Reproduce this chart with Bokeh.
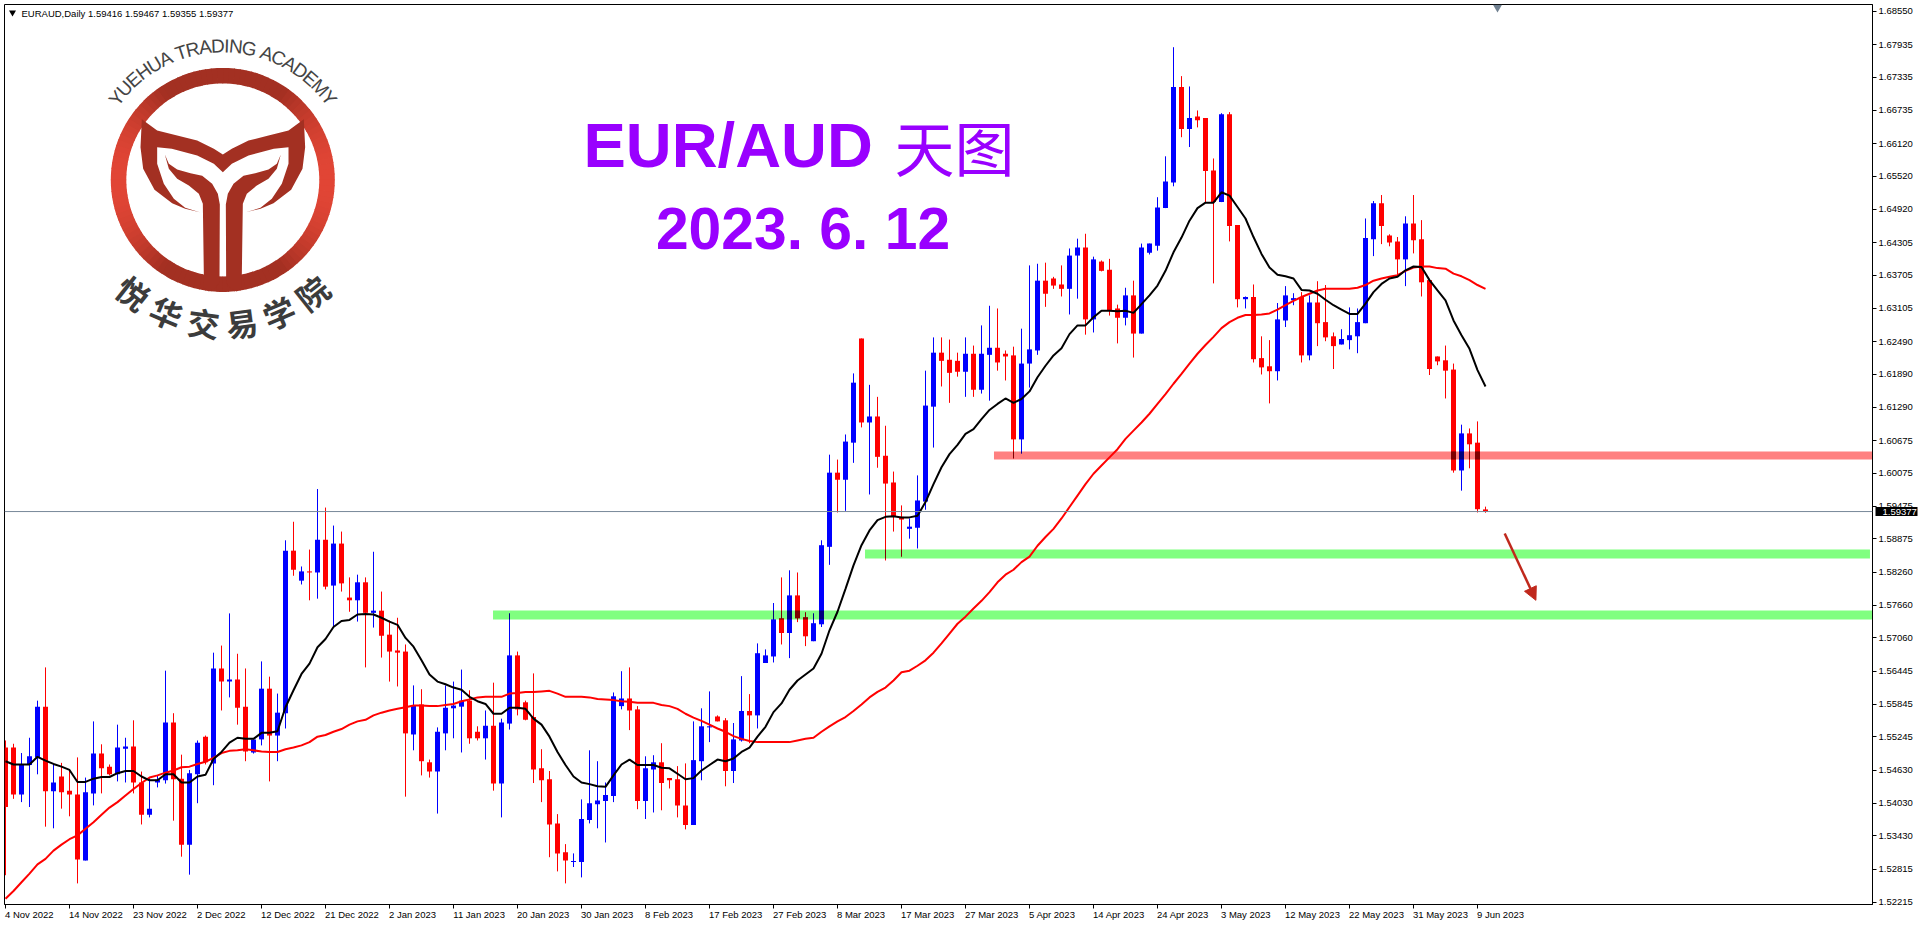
import math
from bokeh.embed import file_html
from bokeh.resources import INLINE
from bokeh.plotting import figure
from bokeh.models import Range1d, FixedTicker, PrintfTickFormatter, Span, Arrow, NormalHead, LinearAxis
from bokeh.core.properties import value

opens = [1.5505,1.5505,1.5419,1.5473,1.5487,1.5580,1.5425,1.5452,1.5426,1.5419,
1.5298,1.5421,1.5494,1.5470,1.5456,1.5503,1.5507,1.5441,1.5382,1.5441,
1.5445,1.5551,1.5448,1.5327,1.5456,1.5525,1.5476,1.5650,1.5626,1.5630,
1.5580,1.5496,1.5520,1.5613,1.5527,1.5568,1.5866,1.5811,1.5828,1.5826,
1.5886,1.5802,1.5879,1.5780,1.5775,1.5808,1.5752,1.5756,1.5712,1.5683,
1.5681,1.5529,1.5584,1.5478,1.5461,1.5531,1.5577,1.5580,1.5591,1.5534,
1.5522,1.5545,1.5439,1.5549,1.5674,1.5588,1.5561,1.5467,1.5447,1.5366,
1.5313,1.5295,1.5295,1.5372,1.5401,1.5407,1.5416,1.5581,1.5595,1.5575,
1.5407,1.5465,1.5478,1.5449,1.5447,1.5399,1.5363,1.5480,1.5542,1.5562,
1.5555,1.5462,1.5518,1.5572,1.5564,1.5660,1.5672,1.5742,1.5715,1.5784,
1.5744,1.5700,1.5731,1.5873,1.6009,1.5996,1.6064,1.6255,1.6101,1.6112,
1.6040,1.5991,1.5928,1.5906,1.5908,1.5956,1.6130,1.6229,1.6216,1.6214,
1.6194,1.6227,1.6161,1.6225,1.6238,1.6227,1.6224,1.6070,1.6209,1.6233,
1.6361,1.6365,1.6354,1.6346,1.6407,1.6422,1.6290,1.6396,1.6381,1.6310,
1.6293,1.6334,1.6264,1.6412,1.6425,1.6494,1.6541,1.6716,1.6639,1.6662,
1.6659,1.6563,1.6505,1.6666,1.6463,1.6327,1.6331,1.6219,1.6204,1.6195,
1.6288,1.6325,1.6331,1.6224,1.6321,1.6285,1.6259,1.6244,1.6252,1.6259,
1.6283,1.6437,1.6503,1.6444,1.6433,1.6400,1.6466,1.6437,1.6362,1.6222,
1.6215,1.6198,1.6013,1.6081,1.6064,1.59416]
highs = [1.5518,1.5512,1.5495,1.5523,1.5591,1.5652,1.5475,1.5477,1.5463,1.5487,
1.5450,1.5553,1.5511,1.5474,1.5547,1.5523,1.5555,1.5461,1.5450,1.5454,
1.5646,1.5568,1.5492,1.5464,1.5518,1.5527,1.5679,1.5692,1.5751,1.5677,
1.5650,1.5520,1.5663,1.5635,1.5604,1.5885,1.5919,1.5837,1.5868,1.5979,
1.5945,1.5912,1.5901,1.5817,1.5822,1.5817,1.5864,1.5791,1.5738,1.5743,
1.5694,1.5619,1.5612,1.5483,1.5542,1.5619,1.5626,1.5648,1.5610,1.5544,
1.5573,1.5624,1.5558,1.5751,1.5681,1.5591,1.5641,1.5502,1.5462,1.5383,
1.5328,1.5311,1.5410,1.5500,1.5480,1.5441,1.5606,1.5645,1.5652,1.5581,
1.5489,1.5491,1.5513,1.5449,1.5471,1.5476,1.5553,1.5577,1.5608,1.5564,
1.5559,1.5550,1.5636,1.5603,1.5696,1.5685,1.5770,1.5817,1.5830,1.5826,
1.5753,1.5751,1.5885,1.6042,1.6033,1.6079,1.6191,1.6255,1.6170,1.6148,
1.6095,1.6011,1.5949,1.5925,1.6004,1.6196,1.6257,1.6257,1.6253,1.6229,
1.6257,1.6242,1.6279,1.6315,1.6310,1.6233,1.6240,1.6273,1.6389,1.6392,
1.6394,1.6368,1.6389,1.6420,1.6438,1.6447,1.6405,1.6398,1.6401,1.6317,
1.6348,1.6361,1.6429,1.6429,1.6514,1.6589,1.6789,1.6736,1.6717,1.6673,
1.6659,1.6585,1.6668,1.6670,1.6463,1.6332,1.6354,1.6259,1.6252,1.6320,
1.6351,1.6338,1.6340,1.6334,1.6360,1.6353,1.6266,1.6272,1.6312,1.6310,
1.6475,1.6507,1.6518,1.6446,1.6441,1.6479,1.6518,1.6472,1.6362,1.6222,
1.6242,1.6209,1.6097,1.6090,1.6103,1.59467]
lows = [1.5271,1.5411,1.5405,1.5396,1.5456,1.5360,1.5357,1.5393,1.5379,1.5256,
1.5298,1.5399,1.5421,1.5454,1.5443,1.5441,1.5421,1.5364,1.5377,1.5432,
1.5439,1.5371,1.5305,1.5272,1.5403,1.5474,1.5436,1.5573,1.5597,1.5547,
1.5480,1.5494,1.5509,1.5443,1.5480,1.5540,1.5820,1.5804,1.5775,1.5778,
1.5795,1.5725,1.5791,1.5754,1.5736,1.5652,1.5725,1.5670,1.5626,1.5617,
1.5415,1.5500,1.5454,1.5450,1.5384,1.5500,1.5522,1.5496,1.5512,1.5518,
1.5483,1.5426,1.5377,1.5538,1.5564,1.5555,1.5440,1.5405,1.5304,1.5278,
1.5256,1.5286,1.5267,1.5366,1.5357,1.5331,1.5405,1.5575,1.5537,1.5392,
1.5374,1.5386,1.5390,1.5430,1.5377,1.5355,1.5363,1.5445,1.5515,1.5553,
1.5434,1.5440,1.5516,1.5513,1.5540,1.5660,1.5661,1.5694,1.5669,1.5735,
1.5691,1.5700,1.5726,1.5840,1.5936,1.5939,1.6027,1.6092,1.5969,1.6018,
1.5848,1.5901,1.5855,1.5888,1.5870,1.5941,1.6055,1.6167,1.6137,1.6185,
1.6148,1.6148,1.6154,1.6141,1.6196,1.6178,1.6035,1.6044,1.6165,1.6225,
1.6313,1.6346,1.6332,1.6299,1.6328,1.6262,1.6266,1.6378,1.6297,1.6246,
1.6279,1.6220,1.6264,1.6409,1.6416,1.6494,1.6534,1.6624,1.6606,1.6642,
1.6505,1.6356,1.6505,1.6433,1.6312,1.6310,1.6211,1.6189,1.6136,1.6178,
1.6276,1.6316,1.6211,1.6215,1.6241,1.6250,1.6199,1.6244,1.6235,1.6228,
1.6283,1.6406,1.6428,1.6424,1.6371,1.6351,1.6411,1.6332,1.6188,1.6206,
1.6145,1.6009,1.5976,1.6017,1.5936,1.59355]
closes = [1.5396,1.5419,1.5473,1.5489,1.5580,1.5425,1.5441,1.5423,1.5419,1.5300,
1.5423,1.5494,1.5467,1.5456,1.5505,1.5507,1.5441,1.5382,1.5393,1.5446,
1.5551,1.5447,1.5327,1.5458,1.5514,1.5478,1.5650,1.5626,1.5630,1.5578,
1.5498,1.5520,1.5613,1.5527,1.5569,1.5866,1.5831,1.5828,1.5826,1.5886,
1.5800,1.5879,1.5806,1.5775,1.5808,1.5752,1.5756,1.5710,1.5681,1.5679,
1.5531,1.5582,1.5480,1.5461,1.5534,1.5578,1.5582,1.5591,1.5522,1.5522,
1.5545,1.5439,1.5551,1.5674,1.5575,1.5556,1.5465,1.5445,1.5364,1.5311,
1.5298,1.5297,1.5374,1.5403,1.5408,1.5418,1.5599,1.5595,1.5573,1.5407,
1.5467,1.5478,1.5440,1.5445,1.5399,1.5363,1.5482,1.5544,1.5544,1.5553,
1.5462,1.5520,1.5572,1.5564,1.5678,1.5674,1.5740,1.5715,1.5784,1.5742,
1.5709,1.5733,1.5876,1.6009,1.5996,1.6066,1.6174,1.6101,1.6112,1.6038,
1.5989,1.5928,1.5923,1.5910,1.5958,1.6132,1.6229,1.6214,1.6192,1.6194,
1.6227,1.6161,1.6227,1.6238,1.6211,1.6222,1.6070,1.6209,1.6235,1.6361,
1.6337,1.6352,1.6346,1.6407,1.6422,1.6290,1.6400,1.6379,1.6306,1.6293,
1.6334,1.6264,1.6422,1.6429,1.6495,1.6543,1.6716,1.6639,1.6659,1.6655,
1.6562,1.6505,1.6666,1.6461,1.6327,1.6331,1.6217,1.6202,1.6195,1.6290,
1.6334,1.6329,1.6224,1.6321,1.6283,1.6257,1.6241,1.6254,1.6261,1.6285,
1.6439,1.6503,1.6461,1.6431,1.6400,1.6466,1.6435,1.6358,1.6199,1.6213,
1.6196,1.6013,1.6081,1.6061,1.5942,1.59377]

ma_fast = [1.5480,1.5474,1.5474,1.5474,1.5488,1.5481,1.5475,1.5470,1.5464,1.5442,1.5442,1.5448,1.5451,1.5451,1.5458,1.5462,1.5462,1.5452,1.5445,1.5445,1.5456,1.5456,1.5441,1.5441,1.5452,1.5455,1.5484,1.5497,1.5514,1.5523,1.5521,1.5521,1.5532,1.5532,1.5535,1.5579,1.5610,1.5640,1.5659,1.5689,1.5704,1.5726,1.5737,1.5739,1.5749,1.5750,1.5749,1.5743,1.5736,1.5730,1.5706,1.5690,1.5665,1.5639,1.5626,1.5621,1.5615,1.5611,1.5598,1.5590,1.5585,1.5567,1.5567,1.5578,1.5578,
1.5576,1.5558,1.5547,1.5525,1.5497,1.5473,1.5452,1.5441,1.5438,1.5434,1.5433,1.5454,1.5474,1.5483,1.5473,1.5473,1.5473,1.5468,1.5467,1.5457,1.5447,1.5449,1.5463,1.5473,1.5483,1.5480,1.5485,1.5497,1.5505,1.5525,1.5543,1.5570,1.5586,1.5611,1.5628,1.5639,1.5650,1.5677,1.5720,1.5754,1.5796,1.5839,1.5876,1.5903,1.5922,
1.5928,1.5929,1.5927,1.5927,1.5930,1.5955,1.5988,1.6019,1.6043,1.6060,1.6080,1.6089,1.6107,1.6124,1.6135,1.6145,1.6137,1.6144,1.6158,1.6184,1.6205,1.6224,1.6237,1.6263,1.6279,1.6279,1.6294,1.6306,1.6306,1.6305,1.6306,1.6302,1.6318,1.6334,1.6352,1.6379,1.6413,1.6440,
1.6471,1.6494,1.6504,1.6504,1.6523,1.6517,1.6496,1.6475,1.6441,1.6410,1.6385,1.6372,1.6369,1.6365,1.6344,1.6343,1.6337,1.6326,1.6316,1.6308,1.6300,1.6300,1.6319,1.6340,1.6355,1.6365,1.6368,1.6380,1.6387,1.6386,1.6362,1.6343,1.6325,1.6288,1.6261,1.6236,1.6197,1.6167]

ma_slow = [1.5228,1.5242,1.5258,1.5274,1.5291,1.5301,1.5316,1.5327,1.5337,1.5344,1.5356,1.5368,1.5382,1.5395,1.5405,1.5417,1.5429,1.5440,1.5450,1.5454,1.5459,1.5463,1.5469,1.5470,1.5475,1.5479,1.5486,1.5495,1.5499,1.5500,1.5502,1.5500,1.5498,1.5497,1.5497,1.5502,1.5505,1.5509,1.5515,1.5525,1.5528,1.5534,1.5539,1.5547,1.5553,1.5556,1.5564,1.5569,1.5573,1.5576,1.5579,1.5582,1.5582,1.5581,1.5581,1.5583,1.5585,1.5590,1.5593,1.5597,1.5598,1.5598,1.5598,1.5604,1.5605,
1.5607,1.5607,1.5608,1.5609,1.5604,1.5598,1.5598,1.5598,1.5597,1.5594,1.5593,1.5592,1.5590,1.5589,1.5587,1.5587,1.5587,1.5583,1.5581,1.5576,1.5567,1.5560,1.5554,1.5547,1.5540,1.5534,1.5526,1.5521,1.5517,1.5515,1.5515,1.5515,1.5515,1.5515,1.5518,1.5521,1.5523,1.5534,1.5544,1.5553,1.5561,1.5572,1.5584,1.5597,1.5607,
1.5615,1.5628,1.5643,1.5646,1.5655,1.5665,1.5679,1.5696,1.5714,1.5732,1.5745,1.5760,
1.5774,1.5790,1.5808,1.5822,1.5831,1.5845,1.5855,1.5875,1.5891,1.5906,1.5925,1.5946,1.5967,1.5988,1.6007,1.6022,1.6037,1.6052,1.6071,1.6086,1.6101,1.6117,1.6135,1.6153,1.6172,
1.6190,1.6209,1.6227,1.6243,1.6258,1.6274,1.6285,1.6293,1.6298,1.6298,1.6299,1.6301,1.6308,1.6316,1.6324,1.6331,1.6337,1.6343,1.6346,1.6346,1.6346,1.6346,1.6348,1.6353,1.6361,1.6365,1.6368,1.6371,1.6379,1.6385,1.6387,1.6387,1.6384,1.6383,1.6374,1.6369,1.6362,1.6353,1.6346]

date_labels = ["4 Nov 2022","14 Nov 2022","23 Nov 2022","2 Dec 2022","12 Dec 2022","21 Dec 2022",
"2 Jan 2023","11 Jan 2023","20 Jan 2023","30 Jan 2023","8 Feb 2023","17 Feb 2023","27 Feb 2023",
"8 Mar 2023","17 Mar 2023","27 Mar 2023","5 Apr 2023","14 Apr 2023","24 Apr 2023","3 May 2023",
"12 May 2023","22 May 2023","31 May 2023","9 Jun 2023"]
price_ticks = [1.68550,1.67935,1.67335,1.66735,1.66120,1.65520,1.64920,1.64305,1.63705,1.63105,
1.62490,1.61890,1.61290,1.60675,1.60075,1.59475,1.58875,1.58260,1.57660,1.57060,1.56445,
1.55845,1.55245,1.54630,1.54030,1.53430,1.52815,1.52215]
last_price = 1.59377
header_text = "EURAUD,Daily  1.59416 1.59467 1.59355 1.59377"

band_left = [60.94, 107.44, 123.56]
band_right = [233.4, 233.06, 233.4]
band_top = [1.57563, 1.58681, 1.6048]
band_bottom = [1.57398, 1.58516, 1.6033]
band_colors = ["#80ff80", "#80ff80", "#ff8080"]

BLUE, RED = "#0000ff", "#ff0000"
PURPLE = "#9900ff"
AXFONT = value("Liberation Sans")

p = figure(width=1920, height=927, frame_width=1868, frame_height=900,
           x_range=Range1d(-0.125, 233.375), y_range=Range1d(1.52173, 1.68673),
           y_axis_location="right", output_backend="svg", toolbar_location=None,
           min_border_left=4, min_border_top=4, min_border_right=48, min_border_bottom=23,
           margin=(0, 0, 0, 0), background_fill_color="white", border_fill_color="white",
           outline_line_color="black", outline_line_width=1)
p.grid.visible = False
p.extra_x_ranges["px"] = Range1d(4, 1872)
p.extra_y_ranges["py"] = Range1d(904, 4)

tick_idx = [8 * k for k in range(len(date_labels))]
xa = p.xaxis[0]
xa.ticker = FixedTicker(ticks=tick_idx)
xa.major_label_overrides = {t: "" for t in tick_idx}
xa.major_label_standoff = 0
xa.major_label_text_font_size = "1px"
xa.major_tick_in = 0
xa.major_tick_out = 4
xa.minor_tick_line_color = None
xa.axis_line_color = "black"

ya = p.yaxis[0]
ya.ticker = FixedTicker(ticks=price_ticks)
ya.formatter = PrintfTickFormatter(format="%.5f")
ya.major_tick_in = 0
ya.major_tick_out = 4
ya.minor_tick_line_color = None
ya.major_label_standoff = 2
ya.major_label_text_font = "Liberation Sans"
ya.major_label_text_font_size = "9.5px"
ya.major_label_text_color = "black"

# date labels start at their tick: a label-only axis whose ticks sit at each label's centre
adv = {" ":.278,"N":.722,"o":.556,"v":.5,"D":.722,"e":.556,"c":.5,"J":.5,"a":.556,"n":.556,"F":.611,
       "b":.556,"M":.833,"r":.333,"A":.667,"p":.556,"y":.5,"u":.556}
label_centres = [t + (sum(adv.get(ch, .556) for ch in s) * 9.5 / 2 - 0.5) / 8
                 for t, s in zip(tick_idx, date_labels)]
date_axis = LinearAxis(ticker=FixedTicker(ticks=label_centres),
                       major_label_overrides=dict(zip(label_centres, date_labels)),
                       major_tick_in=0, major_tick_out=0, minor_tick_line_color=None,
                       axis_line_color=None, major_tick_line_color=None, major_label_standoff=0,
                       major_label_text_font="Liberation Sans", major_label_text_font_size="9.5px",
                       major_label_text_color="black")
p.add_layout(date_axis, "below")

# black tag with the last price: a second scale whose single thick tick reaches back over the first
tag_axis = LinearAxis(ticker=FixedTicker(ticks=[last_price]), formatter=PrintfTickFormatter(format="%.5f"),
                      major_tick_in=40, major_tick_out=2, major_tick_line_color="black",
                      major_tick_line_width=9, minor_tick_line_color=None, axis_line_color=None,
                      major_label_standoff=-35, major_label_text_font="Liberation Sans",
                      major_label_text_font_size="9.5px", major_label_text_color="white")
p.add_layout(tag_axis, "right")

# support / resistance bands (drawn under the candles)
p.quad(left=band_left, right=band_right, top=band_top, bottom=band_bottom,
       fill_color=band_colors, line_color=None)

xs = list(range(len(opens)))
colors = [BLUE if c >= o else RED for o, c in zip(opens, closes)]
p.segment(xs, lows, xs, highs, line_color=colors, line_width=1)
p.vbar(x=xs, width=0.625, top=[max(o, c) for o, c in zip(opens, closes)],
       bottom=[min(o, c) for o, c in zip(opens, closes)], fill_color=colors, line_color=None)

# candle parts under a band look darkened, as in the terminal
dx0, dx1, dtop, dbot, wx, wlo, whi = [], [], [], [], [], [], []
for left, top, bot in zip(band_left, band_top, band_bottom):
    for i in xs:
        if i < left:
            continue
        bt, bb = min(max(opens[i], closes[i]), top), max(min(opens[i], closes[i]), bot)
        if bt > bb:
            dx0.append(i - 0.3125); dx1.append(i + 0.3125); dtop.append(bt); dbot.append(bb)
        for a, b in ((max(opens[i], closes[i]), highs[i]), (lows[i], min(opens[i], closes[i]))):
            t, u = min(b, top), max(a, bot)
            if t > u:
                wx.append(i); wlo.append(u); whi.append(t)
p.quad(left=dx0, right=dx1, top=dtop, bottom=dbot, fill_color="black", fill_alpha=0.5, line_color=None)
p.segment(wx, wlo, wx, whi, line_color="black", line_alpha=0.5, line_width=1)

p.line(xs, ma_slow, line_color=RED, line_width=2)
p.line(xs, ma_fast, line_color="black", line_width=2)
p.add_layout(Span(location=last_price, dimension="width", line_color="#778899", line_width=1))

# chart-shift marker at the top of the chart
p.scatter([186.5], [1.6862], marker="inverted_triangle", size=9, fill_color="#708090", line_color=None)

# forecast arrow
p.add_layout(Arrow(end=NormalHead(size=13, fill_color="#c0281c", line_color="#c0281c"),
                   x_start=187.4, y_start=1.58975, x_end=191.3, y_end=1.5775,
                   line_color="#c0281c", line_width=2.5))

PX = dict(x_range_name="px", y_range_name="py")
p.text([21], [12.5], text=[header_text], text_font=AXFONT, text_font_size="9.5px",
       text_color="black", text_baseline="middle", **PX)
p.scatter([12], [12], marker="inverted_triangle", size=7, fill_color="black", line_color=None, **PX)

p.text([583], [144], text=["EUR/AUD"], text_font=AXFONT, text_font_style="bold",
       text_font_size="63.5px", text_color=PURPLE, text_baseline="middle", **PX)
p.text([894], [145], text=["天图"], text_font=value("Noto Sans CJK SC"), text_font_size="60px",
       text_color=PURPLE, text_baseline="middle", **PX)
p.text([802.5], [228], text=["2023. 6. 12"], text_font=AXFONT, text_font_style="bold",
       text_font_size="58.8px", text_color=PURPLE, text_align="center", text_baseline="middle", **PX)

# logo: gradient ring built from short wedges
cx, cy = 222.3, 179.4
n = 120
ring_dark, ring_bright = (0xa3, 0x30, 0x22), (0xe2, 0x46, 0x36)
starts, ends, ring_colors = [], [], []
for k in range(n):
    a0 = 2 * math.pi * k / n
    c = abs(math.cos(a0 + math.pi / n))
    t = max(0.0, (c - 0.55) / 0.45)
    ring_colors.append("#%02x%02x%02x" % tuple(int(d + (b - d) * t) for d, b in zip(ring_dark, ring_bright)))
    starts.append(a0 - 0.004)
    ends.append(a0 + 2 * math.pi / n + 0.004)
p.annular_wedge([cx] * n, [cy] * n, inner_radius=96.5, outer_radius=112, inner_radius_units="screen",
                outer_radius_units="screen", start_angle=starts, end_angle=ends,
                fill_color=ring_colors, line_color=None, **PX)

tail_x = [424,470,530,590,640,667,694,744,804,864,910,914,906,872,819,780,736,780,814,844,864,864,820,744,694,667,640,590,514,470,470,490,520,554,598,554,515,462,428,420]
tail_y = [356,390,405,420,445,462,445,420,405,390,356,440,505,568,608,625,635,622,595,550,490,440,445,465,490,515,490,465,445,440,490,550,595,622,635,625,608,568,505,440]
leaf_x = [493,505,530,570,605,635,652,658,657,645,625,610,610,607,595,565,530,505]
leaf_y = [462,490,507,518,526,550,580,612,845,862,873,860,822,610,580,555,535,505]
LOGO = "#a33022"
p.patch([v / 3 for v in tail_x], [v / 3 for v in tail_y], fill_color=LOGO, line_color=None, **PX)
p.patch([v / 3 for v in leaf_x], [v / 3 for v in leaf_y], fill_color=LOGO, line_color=None, **PX)
p.patch([(1334 - v) / 3 for v in leaf_x], [v / 3 for v in leaf_y], fill_color=LOGO, line_color=None, **PX)

arc_text = "YUEHUA TRADING ACADEMY"
arc_w = {"Y":.667,"U":.722,"E":.667,"H":.722,"A":.667," ":.278,"T":.611,"R":.722,"D":.722,"I":.278,"N":.722,"G":.778,"C":.722,"M":.833}
total = sum(arc_w[c] for c in arc_text)
run, ax, ay, ang, chars = 0.0, [], [], [], []
for c in arc_text:
    w = arc_w[c]
    th = math.radians(-55 + 110 * (run + w / 2) / total)
    run += w
    if c == " ":
        continue
    ax.append(cx + 134 * math.sin(th)); ay.append(cy - 134 * math.cos(th)); ang.append(-th); chars.append(c)
p.text(ax, ay, text=chars, angle=ang, text_font=AXFONT, text_font_size="19px", text_color="#444444",
       text_align="center", text_baseline="middle", **PX)

cn_text = "悦华交易学院"
cn_angles = [-38.4, -23, -7.6, 7.6, 23, 38.4]
bx = [cx + 143.5 * math.sin(math.radians(a)) for a in cn_angles]
by = [cy + 143.5 * math.cos(math.radians(a)) for a in cn_angles]
p.text(bx, by, text=list(cn_text), angle=[math.radians(a) for a in cn_angles],
       text_font=value("Noto Sans CJK SC"), text_font_style="bold", text_font_size="32px",
       text_color="#3c3c3c", text_align="center", text_baseline="middle", **PX)

open("out.html", "w").write(file_html(p, INLINE))
